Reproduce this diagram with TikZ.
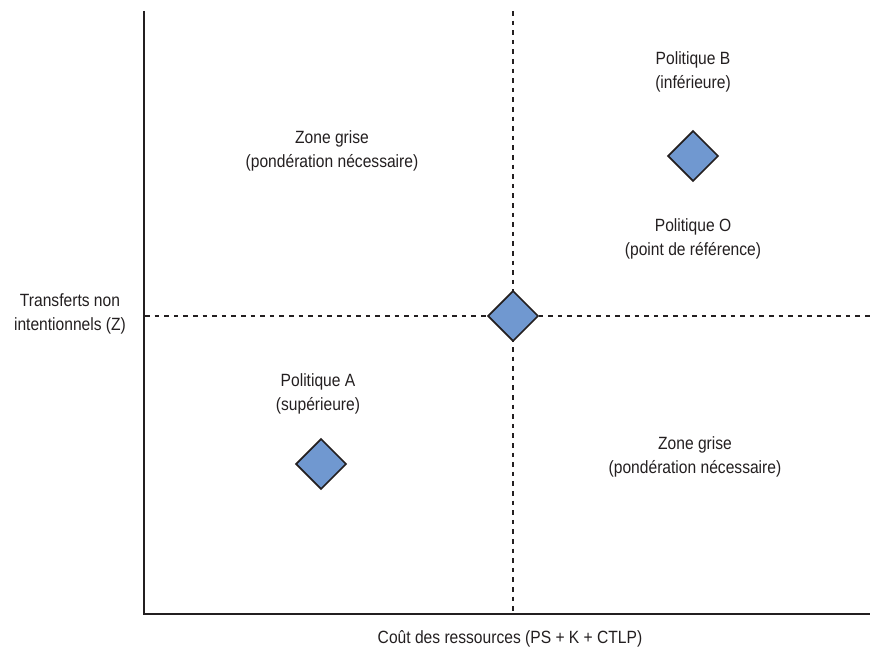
\documentclass[tikz,border=0pt]{standalone}
\usepackage{fontspec}
\setmainfont{Liberation Sans}[FakeStretch=0.88]
\usetikzlibrary{shapes.geometric}
\definecolor{polblue}{RGB}{112,152,208}
\definecolor{inkgray}{RGB}{35,31,32}
\begin{document}
\begin{tikzpicture}[x=0.75pt,y=-0.75pt,
  every node/.style={font=\fontsize{13.3}{17.4}\selectfont,text=inkgray},
  axis/.style={draw=inkgray,line width=1.6pt},
  guide/.style={draw=inkgray,line width=1.2pt,dash pattern=on 3.4pt off 3.8pt},
  pol/.style={diamond,draw=inkgray,line width=1.3pt,fill=polblue,
    inner sep=0pt,minimum width=38pt,minimum height=38pt},
  lbl/.style={align=center}]
\useasboundingbox (0,0) rectangle (870,652);
% axes and reference lines
\coordinate (orig) at (144,614);
\coordinate (ytop) at (144,11);
\coordinate (xend) at (870,614);
\coordinate (vtop) at (513,11);
\coordinate (vbot) at (513,614);
\coordinate (hleft) at (145,316);
\coordinate (hright) at (870,316);
\draw[guide] (vtop) -- (vbot);
\draw[guide] (hleft) -- (hright);
\draw[axis] (ytop) -- (orig) -- (xend);
% policies
\node[pol] (polO) at (513,316) {};
\node[pol] (polB) at (693,156) {};
\node[pol] (polA) at (321,464) {};
% labels
\node[lbl] (lblB) at (693,72) {Politique B\\(inférieure)};
\node[lbl] (lblO) at (693,239) {Politique O\\(point de référence)};
\node[lbl] (grayTL) at (332,151) {Zone grise\\(pondération nécessaire)};
\node[lbl] (grayBR) at (695,457) {Zone grise\\(pondération nécessaire)};
\node[lbl] (lblA) at (318,394) {Politique A\\(supérieure)};
\node[lbl] (ylab) at (70,314) {Transferts non\\intentionnels (Z)};
\node (xlab) at (510,639) {Coût des ressources (PS + K + CTLP)};
\end{tikzpicture}
\end{document}
